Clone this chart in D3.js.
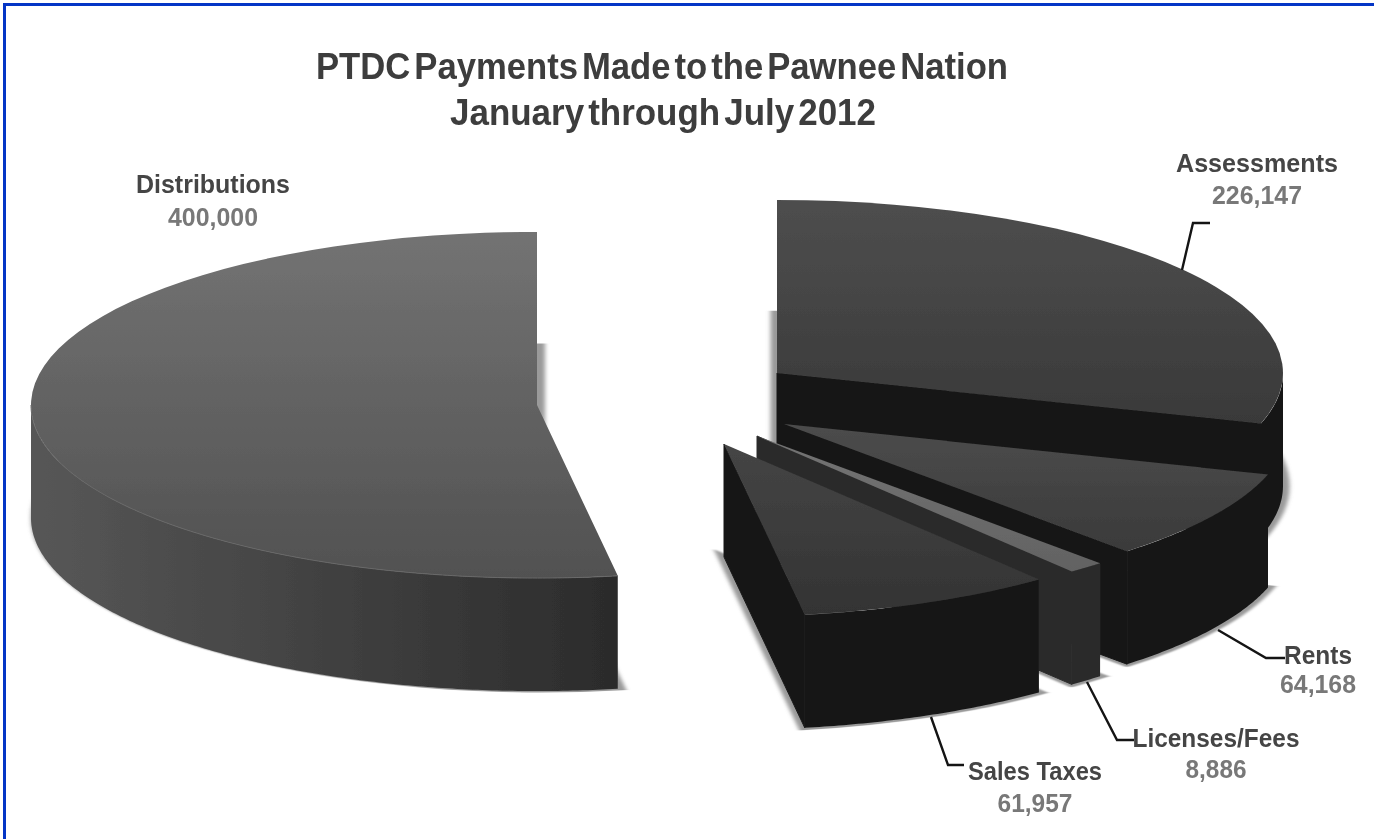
<!DOCTYPE html>
<html>
<head>
<meta charset="utf-8">
<script src="https://cdn.jsdelivr.net/npm/d3@7"></script>
<style>
    html, body { margin: 0; padding: 0; background: #fff; overflow: hidden; }
    text { font-family: "Liberation Sans", Arial, sans-serif; font-weight: bold; }
</style>
</head>
<body>
<div id="chart"></div>
<script>
let categories = ['Assessments', 'Rents', 'Licenses/Fees', 'Sales Taxes', 'Distributions']
let payments = [226147, 64168, 8886, 61957, 400000]
let titleLines = ['PTDC Payments Made to the Pawnee Nation', 'January through July 2012']

let svgWidth = 1374
let svgHeight = 839
let radius = 506
let tilt = 0.342
let depth = 113

// where each exploded slice has its tip
let tips = {
    'Assessments': [777, 373],
    'Rents': [784, 424],
    'Licenses/Fees': [757, 436],
    'Sales Taxes': [724, 444],
    'Distributions': [537, 405]
}
let colors = {
    'Assessments': { top: ['#4e4e4e', '#393939'], wall: ['#181818', '#181818'] },
    'Rents': { top: ['#4c4c4c', '#3a3a3a'], wall: ['#181818', '#181818'] },
    'Licenses/Fees': { top: ['#747474', '#626262'], wall: ['#2c2c2c', '#2c2c2c'] },
    'Sales Taxes': { top: ['#454545', '#333333'], wall: ['#191919', '#191919'] },
    'Distributions': { top: ['#737373', '#515151'], wall: ['#575757', '#2b2b2b'] }
}
// label anchor (centre x, name baseline, value baseline) and text widths
let labels = {
    'Assessments': { x: 1257, y: 172, y2: 204, w: 162, w2: 90 },
    'Rents': { x: 1318, y: 664, y2: 693, w: 68, w2: 76 },
    'Licenses/Fees': { x: 1216, y: 747, y2: 778, w: 167, w2: 61 },
    'Sales Taxes': { x: 1035, y: 780, y2: 812, w: 134, w2: 75 },
    'Distributions': { x: 213, y: 193, y2: 226, w: 154, w2: 90 }
}
let leaders = {
    'Assessments': [[1182, 270], [1193, 223], [1210, 223]],
    'Rents': [[1218, 630], [1266, 658], [1285, 658]],
    'Licenses/Fees': [[1087, 682], [1117, 740], [1134, 740]],
    'Sales Taxes': [[931, 717], [948, 765], [964, 765]]
}

let svg = d3.select('#chart').append('svg')
    .attr('width', svgWidth)
    .attr('height', svgHeight)

let defs = svg.append('defs')
defs.append('filter').attr('id', 'soft')
    .append('feGaussianBlur').attr('stdDeviation', 0.6)
let shadow = defs.append('filter').attr('id', 'shadow')
    .attr('x', '-10%').attr('y', '-10%').attr('width', '120%').attr('height', '120%')
shadow.append('feGaussianBlur').attr('stdDeviation', 2.2)

let pie = d3.pie().sort(null).value(d => d.value)
let slices = pie(categories.map((c, i) => ({ name: c, value: payments[i] })))

// point on the tilted rim, angle clockwise from 12 o'clock
function rim(a) {
    return [radius * Math.sin(a), -radius * tilt * Math.cos(a)]
}
function arcPoints(a0, a1) {
    let n = Math.max(2, Math.ceil(Math.abs(a1 - a0) / 0.01))
    return d3.range(n + 1).map(i => rim(a0 + (a1 - a0) * i / n))
}
let line = d3.line()
let arcGen = d3.arc().innerRadius(0).outerRadius(radius)

// gradients per slice
slices.forEach((s, i) => {
    let c = colors[s.data.name]
    let gt = defs.append('linearGradient').attr('id', 'top' + i)
        .attr('x1', 0).attr('y1', 0).attr('x2', 0).attr('y2', 1)
    gt.append('stop').attr('offset', 0).attr('stop-color', c.top[0])
    gt.append('stop').attr('offset', 1).attr('stop-color', c.top[1])
    let gw = defs.append('linearGradient').attr('id', 'wall' + i)
        .attr('x1', 0).attr('y1', 0).attr('x2', 1).attr('y2', 0)
    gw.append('stop').attr('offset', 0).attr('stop-color', c.wall[0])
    gw.append('stop').attr('offset', 1).attr('stop-color', c.wall[1])
})

let chart = svg.append('g').attr('filter', 'url(#soft)')

// back to front: Distributions first, Sales Taxes last
let order = [4, 0, 1, 2, 3]
order.forEach(i => {
    let s = slices[i]
    let name = s.data.name
    let tip = tips[name]
    let big = name == 'Distributions'
    let g = chart.append('g')
        .attr('class', 'slice')
        .attr('transform', `translate(${tip[0]}, ${tip[1]})`)

    // soft shadow of the base, the big slice throws it to the right only
    g.append('path')
        .attr('transform', `translate(${big ? 4 : 0}, ${depth}) scale(1, ${tilt})`)
        .attr('d', arcGen(s))
        .attr('fill', '#9a9a9a')
        .attr('stroke', '#9a9a9a')
        .attr('stroke-width', big ? 8 : 13)
        .attr('filter', 'url(#shadow)')

    // cut face at the end angle, seen only on the right-hand slices
    if (s.endAngle < Math.PI) {
        let e = rim(s.endAngle)
        g.append('path')
            .attr('d', line([[0, 0], e, [e[0], e[1] + depth], [0, depth]]) + 'Z')
            .attr('fill', colors[name].wall[0])
            .attr('stroke', colors[name].wall[0])
            .attr('stroke-width', 1)
    }

    // visible part of the outer wall: only the front half of the rim
    let a0 = Math.max(s.startAngle, Math.PI / 2)
    let a1 = Math.min(s.endAngle, Math.PI * 1.5)
    if (a1 > a0) {
        let upper = arcPoints(a0, a1)
        let lower = arcPoints(a1, a0).map(p => [p[0], p[1] + depth])
        g.append('path')
            .attr('d', line(upper.concat(lower)) + 'Z')
            .attr('fill', `url(#wall${i})`)
    }

    // top face
    g.append('path')
        .attr('transform', `scale(1, ${tilt})`)
        .attr('d', arcGen(s))
        .attr('fill', `url(#top${i})`)

    // thin highlight along the rim of the big slice
    if (big) {
        g.append('path')
            .attr('d', line(arcPoints(a0, a1)))
            .attr('fill', 'none')
            .attr('stroke', '#686868')
            .attr('stroke-width', 1)
    }
})

// leader lines
Object.keys(leaders).forEach(k => {
    svg.append('path')
        .attr('d', d3.line()(leaders[k]))
        .attr('fill', 'none')
        .attr('stroke', '#141414')
        .attr('stroke-width', 2.4)
})

// labels
let text = svg.append('g').attr('filter', 'url(#soft)')
let fmt = d3.format(',')
slices.forEach(s => {
    let l = labels[s.data.name]
    text.append('text')
        .attr('x', l.x).attr('y', l.y)
        .attr('text-anchor', 'middle')
        .attr('font-size', 25)
        .attr('fill', '#454545')
        .attr('textLength', l.w)
        .attr('lengthAdjust', 'spacingAndGlyphs')
        .text(s.data.name)
    text.append('text')
        .attr('x', l.x).attr('y', l.y2)
        .attr('text-anchor', 'middle')
        .attr('font-size', 25)
        .attr('fill', '#787878')
        .attr('textLength', l.w2)
        .attr('lengthAdjust', 'spacingAndGlyphs')
        .text(fmt(s.value))
})

// title, the words sit close together in the original
let titleY = [79, 125]
let titleW = [692, 426]
text.selectAll('.title')
    .data(titleLines)
    .enter()
    .append('text')
    .attr('class', 'title')
    .attr('x', (d, i) => i == 0 ? 662 : 663)
    .attr('y', (d, i) => titleY[i])
    .attr('text-anchor', 'middle')
    .attr('font-size', 37)
    .attr('word-spacing', -6)
    .attr('fill', '#3c3c3c')
    .attr('textLength', (d, i) => titleW[i])
    .attr('lengthAdjust', 'spacingAndGlyphs')
    .text(d => d)

// page frame, runs off the picture at right and bottom
svg.append('path')
    .attr('d', `M4.5,${svgHeight}V4.5H${svgWidth}`)
    .attr('fill', 'none')
    .attr('stroke', '#0435c6')
    .attr('stroke-width', 3)
</script>
</body>
</html>
